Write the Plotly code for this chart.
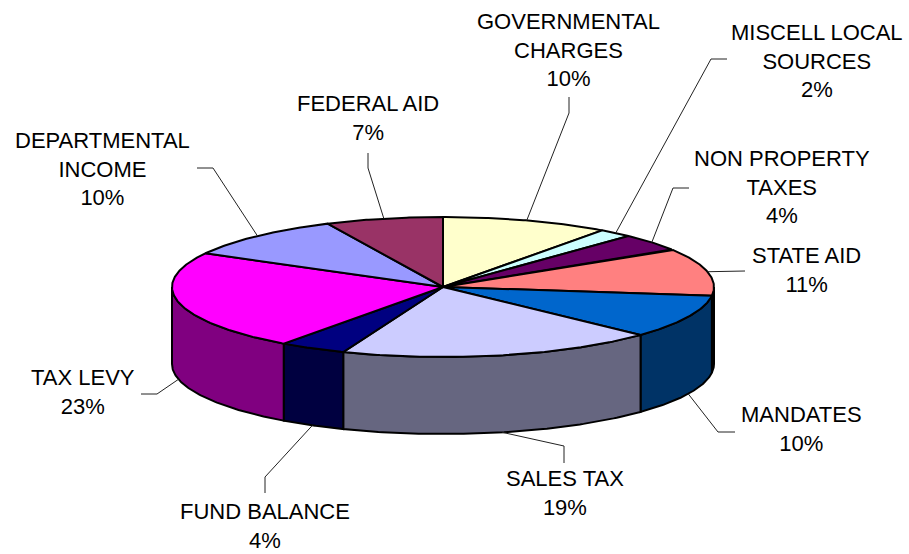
import numpy as np
import plotly.graph_objects as go

# ---------------- data ----------------
categories = ["GOVERNMENTAL CHARGES", "MISCELL LOCAL SOURCES", "NON PROPERTY TAXES",
              "STATE AID", "MANDATES", "SALES TAX", "FUND BALANCE", "TAX LEVY",
              "DEPARTMENTAL INCOME", "FEDERAL AID"]
label_names = ["GOVERNMENTAL<br>CHARGES", "MISCELL LOCAL<br>SOURCES", "NON PROPERTY<br>TAXES",
               "STATE AID", "MANDATES", "SALES TAX", "FUND BALANCE", "TAX LEVY",
               "DEPARTMENTAL<br>INCOME", "FEDERAL AID"]
values = [10, 2, 4, 11, 10, 19, 4, 23, 10, 7]

top_colors = ["#FFFFCC", "#CCFFFF", "#660066", "#FF8080", "#0066CC",
              "#CCCCFF", "#000080", "#FF00FF", "#9999FF", "#993366"]
side_colors = ["#808066", "#668080", "#330033", "#804040", "#003366",
               "#666680", "#000040", "#800080", "#4D4D80", "#4D1A33"]

# label placement (text centre, leader elbow, leader end) in page pixels
label_pos = [(568, 50), (817, 61), (782, 187), (806, 270), (801, 429),
             (565, 493), (265, 526), (83, 392), (102, 169), (368, 118)]
leader_elbow = [(569, 113), (711, 59), (673, 188), None, (718, 432),
                (564, 446), (265, 477), (157, 394), (213, 168), (368, 168)]
leader_end = [(569, 97), (727, 59), (689, 188), (745, 271), (735, 432),
              (564, 463), (265, 493), (141, 394), (197, 168), (368, 153)]

# ---------------- geometry ----------------
W, H = 909, 554
cx, cy, rx, ry, depth = 443, 287, 271, 70, 77


def ex(t):
    return cx + rx * np.sin(np.radians(t))


def ey(t):
    return cy - ry * np.cos(np.radians(t))


total = sum(values)
cum = np.concatenate([[0], np.cumsum(values)]) / total * 360.0

fig = go.Figure()

# side walls (front half only: 90..270 deg clockwise from top)
for i in range(len(values)):
    a0, a1 = cum[i], cum[i + 1]
    s, e = max(a0, 90), min(a1, 270)
    if e <= s:
        continue
    t = np.linspace(s, e, 80)
    xs = np.concatenate([ex(t), ex(t[::-1])])
    ys = np.concatenate([ey(t), ey(t[::-1]) + depth])
    xs = np.append(xs, xs[0])
    ys = np.append(ys, ys[0])
    fig.add_trace(go.Scatter(x=xs, y=ys, mode="lines", fill="toself",
                             fillcolor=side_colors[i],
                             line=dict(color="black", width=2),
                             hoverinfo="skip", showlegend=False))

# top faces
for i in range(len(values)):
    a0, a1 = cum[i], cum[i + 1]
    t = np.linspace(a0, a1, max(int((a1 - a0) * 2), 6))
    xs = np.concatenate([[cx], ex(t), [cx]])
    ys = np.concatenate([[cy], ey(t), [cy]])
    fig.add_trace(go.Scatter(x=xs, y=ys, mode="lines", fill="toself",
                             fillcolor=top_colors[i],
                             line=dict(color="black", width=2),
                             hoverinfo="skip", showlegend=False,
                             name=categories[i]))

# leader lines and labels
annotations = []
for i in range(len(values)):
    mid = (cum[i] + cum[i + 1]) / 2
    ax_, ay_ = ex(mid), ey(mid)
    if np.cos(np.radians(mid)) < 0:
        ay_ += depth
    pts = [(ax_, ay_)]
    if leader_elbow[i] is not None:
        pts.append(leader_elbow[i])
    pts.append(leader_end[i])
    fig.add_trace(go.Scatter(x=[p[0] for p in pts], y=[p[1] for p in pts],
                             mode="lines", line=dict(color="#222222", width=1),
                             hoverinfo="skip", showlegend=False))
    pct = round(values[i] / total * 100)
    annotations.append(dict(x=label_pos[i][0], y=label_pos[i][1], xref="x", yref="y",
                            text=f"{label_names[i]}<br>{pct}%", showarrow=False,
                            xanchor="center", yanchor="middle", align="center",
                            font=dict(family="Liberation Sans, Arial, sans-serif",
                                      size=22, color="black")))

fig.update_layout(
    width=W, height=H, autosize=False,
    margin=dict(l=0, r=0, t=0, b=0, pad=0),
    paper_bgcolor="white", plot_bgcolor="white",
    xaxis=dict(range=[0, W], visible=False, fixedrange=True),
    yaxis=dict(range=[H, 0], visible=False, fixedrange=True),
    annotations=annotations,
    showlegend=False,
)

fig.write_html("out.html",
               config={"displayModeBar": False},
               post_script="document.body.style.margin='0px';"
                           "document.body.style.overflow='hidden';")
